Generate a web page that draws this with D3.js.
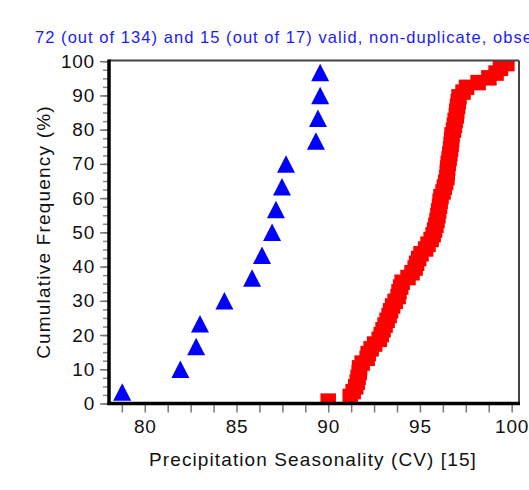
<!DOCTYPE html>
<html>
<head>
<meta charset="utf-8">
<script src="https://cdn.jsdelivr.net/npm/d3@7"></script>
<style>
  body { margin: 0; background: #fff; }
  text { font-family: 'Liberation Sans', Arial, sans-serif; }
</style>
</head>
<body>
<div id="chart"></div>
<script>
// precipitation seasonality values, sorted (red squares, 72 obs)
const redValues = [
  90.0, 91.2, 91.36, 91.5, 91.58, 91.63, 91.69, 91.71, 91.85, 92.12,
  92.18, 92.34, 92.53, 92.78, 92.89, 92.99, 93.10, 93.21, 93.32, 93.40,
  93.51, 93.65, 93.81, 93.86, 93.95, 94.03, 94.35, 94.57, 94.74, 94.82,
  94.93, 95.06, 95.31, 95.44, 95.61, 95.72, 95.80, 95.87, 95.93, 95.98,
  96.02, 96.07, 96.10, 96.15, 96.26, 96.33, 96.40, 96.47, 96.49, 96.51,
  96.54, 96.59, 96.63, 96.67, 96.70, 96.73, 96.75, 96.83, 96.88, 96.92,
  96.98, 97.01, 97.05, 97.09, 97.13, 97.35, 97.54, 98.17, 98.76, 99.15,
  99.39, 99.74
];
// blue triangles, 15 obs
const blueValues = [
  78.77, 81.94, 82.80, 83.01, 84.34, 85.85, 86.39, 86.94, 87.15, 87.48,
  87.70, 89.33, 89.44, 89.56, 89.56
];
const xTickLabels = [80, 85, 90, 95, 100];
const yTickLabels = [0, 10, 20, 30, 40, 50, 60, 70, 80, 90, 100];
const titleText = '72 (out of 134) and 15 (out of 17) valid, non-duplicate, observations';
const xTitle = 'Precipitation Seasonality (CV) [15]';
const yTitle = 'Cumulative Frequency (%)';

const W = 529, H = 490;
const plot = { left: 109, right: 519, top: 60.5, bottom: 403.5 };

const svg = d3.select('#chart').append('svg')
  .attr('width', W)
  .attr('height', H);

const x = d3.scaleLinear().domain([78.05, 100.4]).range([plot.left, plot.right]);
const y = d3.scaleLinear().domain([0, 100]).range([plot.bottom, 61.2]);

// empirical cumulative frequency from rank
const cum = vals => vals.map((v, i) => ({ v, c: (i + 0.5) / vals.length * 100 }));

svg.append('defs').append('clipPath').attr('id', 'clip')
  .append('rect')
  .attr('x', plot.left).attr('y', plot.top)
  .attr('width', plot.right - plot.left).attr('height', plot.bottom - plot.top);

const marks = svg.append('g').attr('clip-path', 'url(#clip)');

const sq = 15.5;
marks.selectAll('rect.red')
  .data(cum(redValues))
  .enter()
  .append('rect')
  .attr('class', 'red')
  .attr('x', d => x(d.v) - sq / 2)
  .attr('y', d => y(d.c) - sq / 2)
  .attr('width', sq)
  .attr('height', sq)
  .attr('fill', '#ff0000');

const tw = 18, th = 17.5;
marks.selectAll('path.blue')
  .data(cum(blueValues))
  .enter()
  .append('path')
  .attr('class', 'blue')
  .attr('d', `M0,${-th / 2}L${tw / 2},${th / 2}L${-tw / 2},${th / 2}Z`)
  .attr('transform', d => `translate(${x(d.v)},${y(d.c)})`)
  .attr('fill', '#0000ff');

// x axis ticks every 1.25
const xMinor = d3.range(78.75, 100.01, 1.25);
const gx = svg.append('g')
  .attr('transform', `translate(0,${plot.bottom + 1})`)
  .call(d3.axisBottom(x).tickValues(xMinor).tickSize(8).tickPadding(7)
    .tickFormat(d => xTickLabels.includes(d) ? d : ''));
gx.select('.domain').remove();
gx.selectAll('line').attr('stroke', '#777').attr('stroke-width', 1.5);
gx.selectAll('text')
  .attr('font-size', 19)
  .attr('letter-spacing', '0.8px')
  .attr('fill', '#111');

// y axis, minor then major
const gyMinor = svg.append('g')
  .attr('transform', `translate(${plot.left - 1},0)`)
  .call(d3.axisLeft(y).tickValues(d3.range(0, 100.1, 2.5)).tickSize(5).tickFormat(''));
gyMinor.select('.domain').remove();
gyMinor.selectAll('line').attr('stroke', '#888').attr('stroke-width', 1.5);

const gy = svg.append('g')
  .attr('transform', `translate(${plot.left - 1},0)`)
  .call(d3.axisLeft(y).tickValues(yTickLabels).tickSize(8).tickPadding(5));
gy.select('.domain').remove();
gy.selectAll('line').attr('stroke', '#777').attr('stroke-width', 1.5);
gy.selectAll('text')
  .attr('font-size', 19)
  .attr('letter-spacing', '0.8px')
  .attr('fill', '#111');

// frame: thin top/right, heavy left/bottom
svg.append('line')
  .attr('x1', plot.left).attr('x2', plot.right)
  .attr('y1', plot.top).attr('y2', plot.top)
  .attr('stroke', '#444').attr('stroke-width', 2);
svg.append('line')
  .attr('x1', plot.right).attr('x2', plot.right)
  .attr('y1', plot.top).attr('y2', plot.bottom)
  .attr('stroke', '#444').attr('stroke-width', 2);
svg.append('line')
  .attr('x1', plot.left).attr('x2', plot.left)
  .attr('y1', plot.top - 1).attr('y2', plot.bottom + 1.5)
  .attr('stroke', '#000').attr('stroke-width', 3.5);
svg.append('line')
  .attr('x1', plot.left - 1.5).attr('x2', plot.right + 1)
  .attr('y1', plot.bottom).attr('y2', plot.bottom)
  .attr('stroke', '#000').attr('stroke-width', 3.5);

// titles
svg.append('text')
  .attr('x', 35)
  .attr('y', 42.5)
  .attr('font-size', 16.5)
  .attr('letter-spacing', '1.05px')
  .attr('fill', '#1a1aff')
  .text(titleText);

svg.append('text')
  .attr('x', (plot.left + plot.right) / 2 - 1)
  .attr('y', 466)
  .attr('text-anchor', 'middle')
  .attr('font-size', 19)
  .attr('letter-spacing', '1.1px')
  .attr('fill', '#111')
  .text(xTitle);

svg.append('text')
  .attr('transform', `translate(50,${(plot.top + plot.bottom) / 2}) rotate(-90)`)
  .attr('text-anchor', 'middle')
  .attr('font-size', 19)
  .attr('letter-spacing', '1.2px')
  .attr('fill', '#111')
  .text(yTitle);
</script>
</body>
</html>
